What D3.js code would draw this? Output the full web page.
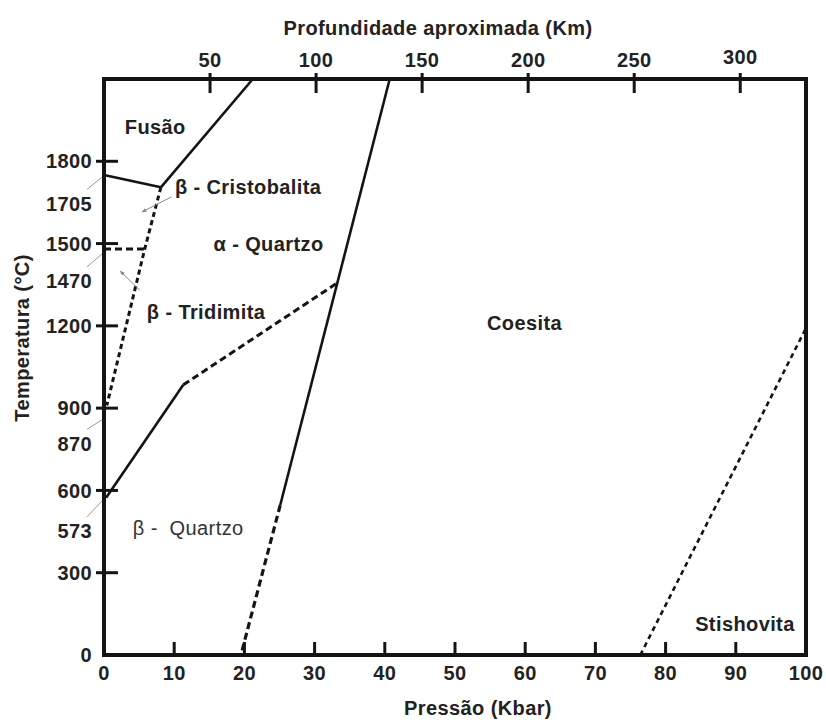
<!DOCTYPE html>
<html lang="pt">
<head>
<meta charset="utf-8">
<script src="https://cdn.jsdelivr.net/npm/d3@7"></script>
<style>
  html, body { margin: 0; padding: 0; background: #fff; }
  svg { display: block; font-family: "Liberation Sans", Arial, sans-serif; }
  svg text { letter-spacing: 0.4px; }
</style>
</head>
<body>
<svg id="chart" width="826" height="722"></svg>
<script>
// Axis ticks
const pressureTicks = [0, 10, 20, 30, 40, 50, 60, 70, 80, 90, 100];
const depthTicks = [50, 100, 150, 200, 250, 300];
const temperatureTicks = [0, 300, 600, 900, 1200, 1500, 1800];
const temperatureMarks = [1705, 1470, 870, 573];

// Phase boundaries, [pressure (kbar), temperature (°C)]
const meltCristobalite = [[0, 1750], [8.1, 1705]];
const meltBoundary = [[8.1, 1705], [21.2, 2100]];
const cristobaliteTridymite = [[8.1, 1705], [5.8, 1480], [0.4, 910]];
const tridymiteQuartz = [[0, 1480], [5.8, 1480]];
const quartzTransitionSolid = [[0.3, 573], [11.3, 985]];
const quartzTransitionDashed = [[11.3, 985], [33.2, 1356]];
const coesiteSolid = [[40.7, 2100], [25.1, 546]];
const coesiteDashed = [[25.1, 546], [19.5, 0]];
const stishoviteBoundary = [[76.4, 0], [100, 1192]];

// Phase field names
const phaseNames = ["Fusão", "β - Cristobalita", "α - Quartzo", "β - Tridimita",
                    "Coesita", "β -  Quartzo", "Stishovita"];

const svg = d3.select("#chart");
const x = d3.scaleLinear().domain([0, 100]).range([104, 806]);
const y = d3.scaleLinear().domain([0, 2100]).range([655, 79]);
const depth = d3.scaleLinear().domain([0, 331]).range([104, 806]);

const ink = "#141414";
const textInk = "#222";
const fs = 20;

// Thin grey pointers from the off-axis temperature labels to the axis
const markShift = {1705: 16, 1470: 29, 870: 27, 573: 33};
const markTarget = {1705: 1745, 1470: 1465, 870: 860, 573: 565};
svg.append("g").selectAll("line").data(temperatureMarks).join("line")
  .attr("x1", 87).attr("y1", d => y(d) + markShift[d] - 14)
  .attr("x2", 103).attr("y2", d => y(markTarget[d]))
  .attr("stroke", "#999").attr("stroke-width", 1);

// Phase boundary lines
const line = d3.line().x(d => x(d[0])).y(d => y(d[1]));
const solid = [meltCristobalite, meltBoundary, quartzTransitionSolid, coesiteSolid];
const dashed = [
  {pts: cristobaliteTridymite, dash: "5,3.5", w: 3},
  {pts: tridymiteQuartz, dash: "7,4", w: 3},
  {pts: quartzTransitionDashed, dash: "7,4", w: 3},
  {pts: coesiteDashed, dash: "7,4", w: 3.2},
  {pts: stishoviteBoundary, dash: "5,4", w: 2.6}
];
svg.append("g").selectAll("path").data(solid).join("path")
  .attr("d", line).attr("fill", "none").attr("stroke", ink)
  .attr("stroke-width", 2.6).attr("stroke-linejoin", "miter");
svg.append("g").selectAll("path").data(dashed).join("path")
  .attr("d", d => line(d.pts)).attr("fill", "none").attr("stroke", ink)
  .attr("stroke-width", d => d.w).attr("stroke-dasharray", d => d.dash);

// Small arrows pointing into the narrow phase fields
const defs = svg.append("defs");
defs.append("marker").attr("id", "tip").attr("viewBox", "0 0 10 10")
  .attr("refX", 1).attr("refY", 5).attr("markerWidth", 5).attr("markerHeight", 5)
  .attr("orient", "auto")
  .append("path").attr("d", "M0,5 L10,1 L10,9 Z").attr("fill", "#888");
const arrows = [[[9.6, 1670], [5.4, 1615]], [[5.1, 1330], [2.3, 1400]]];
svg.append("g").selectAll("path").data(arrows).join("path")
  .attr("d", d => line(d.slice().reverse())).attr("stroke", "#888").attr("stroke-width", 1)
  .attr("fill", "none").attr("marker-start", "url(#tip)");

// Frame
svg.append("rect").attr("x", x(0)).attr("y", y(2100))
  .attr("width", x(100) - x(0)).attr("height", y(0) - y(2100))
  .attr("fill", "none").attr("stroke", ink).attr("stroke-width", 4);

// Bottom axis: pressure
const gx = svg.append("g");
gx.selectAll("line").data(pressureTicks.slice(1, -1)).join("line")
  .attr("x1", d => x(d)).attr("x2", d => x(d))
  .attr("y1", y(0) - 13).attr("y2", y(0) + 1)
  .attr("stroke", ink).attr("stroke-width", 3);
gx.selectAll("text").data(pressureTicks).join("text")
  .attr("x", d => x(d)).attr("y", 673).attr("dy", "0.36em")
  .attr("text-anchor", "middle").attr("font-size", fs).attr("font-weight", "bold")
  .attr("fill", textInk).text(d => d);

// Top axis: approximate depth
const gt = svg.append("g");
gt.selectAll("line").data(depthTicks).join("line")
  .attr("x1", d => depth(d)).attr("x2", d => depth(d))
  .attr("y1", y(2100) - 6).attr("y2", y(2100) + 14)
  .attr("stroke", ink).attr("stroke-width", 3);
gt.selectAll("text").data(depthTicks).join("text")
  .attr("x", d => depth(d)).attr("y", d => d === 300 ? 57 : 60).attr("dy", "0.36em")
  .attr("text-anchor", "middle").attr("font-size", fs).attr("font-weight", "bold")
  .attr("fill", textInk).text(d => d);

// Left axis: temperature
const gy = svg.append("g");
gy.selectAll("line").data(temperatureTicks.slice(1)).join("line")
  .attr("x1", 96).attr("x2", 118)
  .attr("y1", d => y(d)).attr("y2", d => y(d))
  .attr("stroke", ink).attr("stroke-width", 3);
gy.selectAll("text.tick").data(temperatureTicks).join("text").attr("class", "tick")
  .attr("x", 92).attr("y", d => y(d)).attr("dy", "0.36em")
  .attr("text-anchor", "end").attr("font-size", fs).attr("font-weight", "bold")
  .attr("fill", textInk).text(d => d);
gy.selectAll("text.mark").data(temperatureMarks).join("text").attr("class", "mark")
  .attr("x", 92).attr("y", d => y(d) + markShift[d]).attr("dy", "0.36em")
  .attr("text-anchor", "end").attr("font-size", fs).attr("font-weight", "bold")
  .attr("fill", textInk).text(d => d);

// Axis titles
svg.append("text").attr("x", 478).attr("y", 708).attr("dy", "0.36em")
  .attr("text-anchor", "middle").attr("font-size", fs).attr("font-weight", "bold")
  .attr("fill", textInk).text("Pressão (Kbar)");
svg.append("text").attr("x", 438).attr("y", 28).attr("dy", "0.36em")
  .attr("text-anchor", "middle").attr("font-size", fs).attr("font-weight", "bold")
  .attr("fill", textInk).text("Profundidade aproximada (Km)");
svg.append("text").attr("transform", "translate(22,338) rotate(-90)").attr("dy", "0.36em")
  .attr("text-anchor", "middle").attr("font-size", fs).attr("font-weight", "bold")
  .attr("fill", textInk).text("Temperatura (°C)");

// Phase field labels, anchored in (pressure, temperature)
const labelAt = [
  {p: 7.3, t: 1925, anchor: "middle"},
  {p: 10.1, t: 1707, anchor: "start"},
  {p: 15.6, t: 1500, anchor: "start"},
  {p: 6.1, t: 1250, anchor: "start"},
  {p: 59.9, t: 1210, anchor: "middle"},
  {p: 4.1, t: 463, anchor: "start", light: true},
  {p: 91.3, t: 113, anchor: "middle"}
];
svg.append("g").selectAll("text").data(phaseNames).join("text")
  .attr("x", (d, i) => x(labelAt[i].p)).attr("y", (d, i) => y(labelAt[i].t))
  .attr("dy", "0.36em").attr("text-anchor", (d, i) => labelAt[i].anchor)
  .attr("font-size", fs).attr("font-weight", (d, i) => labelAt[i].light ? "normal" : "bold")
  .attr("fill", (d, i) => labelAt[i].light ? "#333" : textInk)
  .attr("xml:space", "preserve").style("white-space", "pre")
  .text(d => d);
</script>
</body>
</html>
